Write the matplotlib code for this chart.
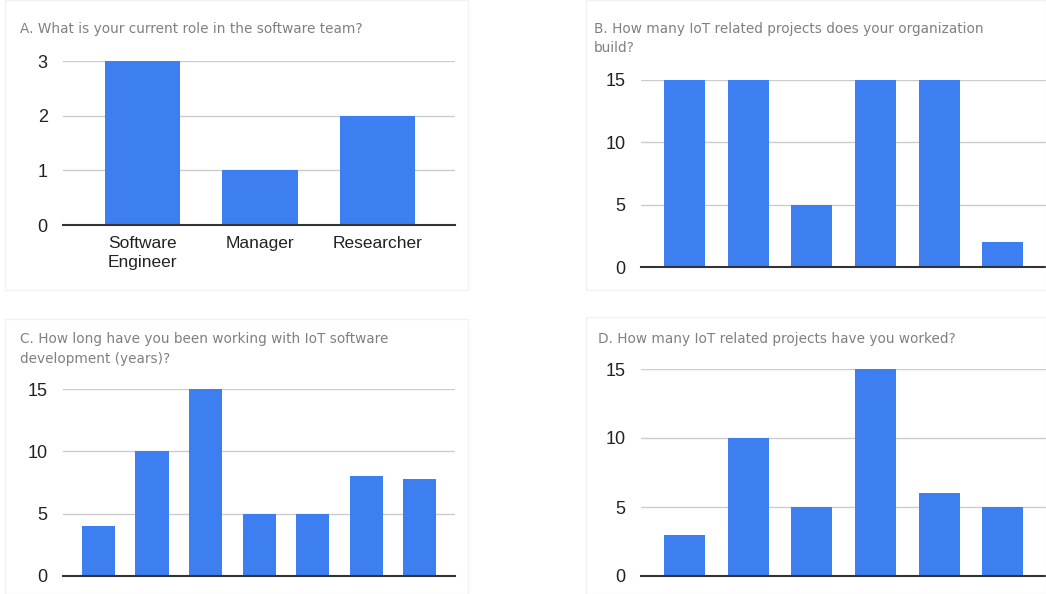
import matplotlib
matplotlib.use("Agg")
import matplotlib.pyplot as plt
from matplotlib.patches import Rectangle

plt.rcParams['font.family'] = ['Liberation Sans', 'DejaVu Sans']

# ---- data ----
title_a = "A. What is your current role in the software team?"
cats_a = ["Software\nEngineer", "Manager", "Researcher"]
vals_a = [3, 1, 2]
ticks_a = [0, 1, 2, 3]

title_b = "B. How many IoT related projects does your organization\nbuild?"
vals_b = [15, 15, 5, 15, 15, 2]
ticks_b = [0, 5, 10, 15]

title_c = "C. How long have you been working with IoT software\ndevelopment (years)?"
vals_c = [4, 10, 15, 5, 5, 8, 7.8]
ticks_c = [0, 5, 10, 15]

title_d = "D. How many IoT related projects have you worked?"
vals_d = [3, 10, 5, 15, 6, 5]
ticks_d = [0, 5, 10, 15]

W, H = 1046, 594
BLUE = "#3d7ff0"
fig = plt.figure(figsize=(W / 100, H / 100), dpi=100)
fig.patch.set_facecolor("white")

def px_axes(x0, x1, ytop, ybot):
    return fig.add_axes([x0 / W, (H - ybot) / H, (x1 - x0) / W, (ybot - ytop) / H])

def card(x0, y0, x1, y1):
    fig.patches.append(Rectangle((x0 / W, (H - y1) / H), (x1 - x0) / W, (y1 - y0) / H,
                                 transform=fig.transFigure, fill=False,
                                 edgecolor="#f2f2f2", lw=1))

card(5, 0, 468, 290)
card(586, 0, 1046, 290)
card(5, 319, 468, 594)
card(586, 317, 1046, 594)

def panel(ax, vals, ticks, xl, xr, width, cats=None):
    x = list(range(len(vals)))
    ax.bar(x, vals, width=width, color=BLUE, zorder=3)
    ax.set_xlim(xl, xr)
    ax.set_ylim(0, ticks[-1])
    ax.set_yticks(ticks)
    ax.set_yticklabels([str(t) for t in ticks], fontsize=13, color="#222222")
    ax.tick_params(axis='y', length=0, pad=11)
    if cats is None:
        ax.set_xticks([])
    else:
        ax.set_xticks(x)
        ax.set_xticklabels(cats, fontsize=12.5, color="#222222", linespacing=1.3)
        ax.tick_params(axis='x', length=0, pad=8)
    for s in ["top", "right", "left"]:
        ax.spines[s].set_visible(False)
    ax.spines["bottom"].set_color("#333333")
    ax.spines["bottom"].set_linewidth(1.5)
    ax.spines["bottom"].set_zorder(4)
    ax.yaxis.grid(True, color="#cccccc", lw=1, zorder=0)
    ax.set_axisbelow(True)
    ax.set_facecolor("none")

axA = px_axes(63, 455, 61, 225)
panel(axA, vals_a, ticks_a, -0.677, 2.66, 0.64, cats_a)
axB = px_axes(641, 1046, 80, 267)
panel(axB, vals_b, ticks_b, -0.684, 5.68, 0.645)
axC = px_axes(63, 455, 389, 576)
panel(axC, vals_c, ticks_c, -0.664, 6.66, 0.62)
axD = px_axes(641, 1046, 369, 576)
panel(axD, vals_d, ticks_d, -0.684, 5.68, 0.645)

def title(x, y, s):
    fig.text(x / W, (H - y) / H, s, fontsize=9.8, color="#808080",
             family=["DejaVu Sans"], ha="left", va="top", linespacing=1.5)

title(20, 22, title_a)
title(594, 22, title_b)
title(20, 332, title_c)
title(598, 332, title_d)

fig.savefig("out.png", dpi=100, facecolor="white")
